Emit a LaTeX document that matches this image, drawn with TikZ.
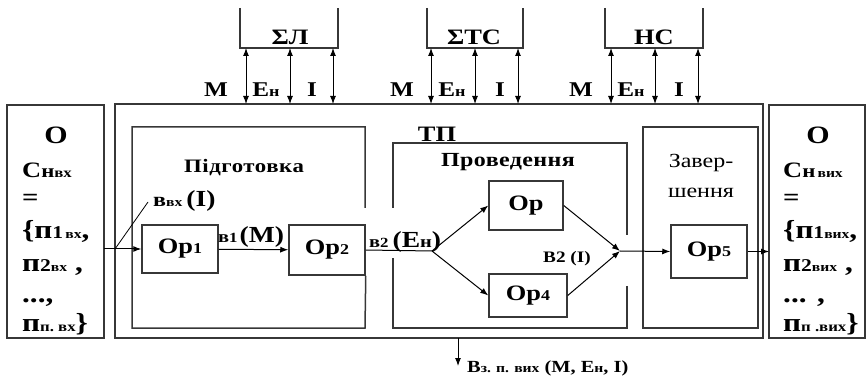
\documentclass[tikz,border=0pt]{standalone}
\usepackage{fontspec}
\setmainfont[FakeStretch=1.2]{Liberation Serif}
\usetikzlibrary{arrows.meta,calc}
\definecolor{lc}{RGB}{55,55,55}
\newcommand\fsz[2]{{\fontsize{#1}{#1}\selectfont #2}}
\begin{document}
\begin{tikzpicture}[x=1pt,y=-1pt,
  bx/.style={draw=lc, line width=1.5pt},
  area/.style={inner sep=0pt, outer sep=0pt},
  op/.style={bx, inner sep=0pt, font=\fontsize{22}{22}\selectfont\bfseries},
  lbl/.style={inner sep=0pt, font=\fontsize{21}{21}\selectfont\bfseries},
  ttl/.style={inner sep=0pt, font=\fontsize{22}{22}\selectfont\bfseries},
  tx/.style={inner sep=0pt, anchor=base west, font=\fontsize{26}{26}\selectfont\bfseries},
  arr/.style={-{Latex[length=8pt,width=6pt]}, line width=1pt},
  dbl/.style={{Latex[length=8pt,width=6pt]}-{Latex[length=8pt,width=6pt]}, line width=1pt}]
\useasboundingbox (0,0) rectangle (867,379);

% outer boxes
\node[bx, area, minimum width=97pt, minimum height=233pt] (in) at (55.5,221.5) {};
\node[bx, area, minimum width=96pt, minimum height=233pt] (out) at (817,221.5) {};
\node[bx, area, minimum width=648pt, minimum height=234pt] (tp) at (439,221) {};

% top resource boxes
\node[area, minimum width=98pt, minimum height=40pt] (SL) at (289,28) {};
\node[area, minimum width=96pt, minimum height=40pt] (STC) at (475,28) {};
\node[area, minimum width=98pt, minimum height=40pt] (NS) at (654,28) {};
\foreach \b in {SL,STC,NS}
  \draw[bx] (\b.north west) -- (\b.south west) -- (\b.south east) -- (\b.north east);
\node[ttl] (SLt) at (290,37) {ΣЛ};
\node[ttl] (STCt) at (474,37) {ΣТС};
\node[ttl] (NSt) at (654,37) {НС};

% double arrows
\foreach \b/\a/\c/\d in {SL/6/1/-5, STC/4/0/-5, NS/6/1/-5}{
  \draw[dbl] ([xshift=\a pt]\b.south west) -- ([xshift=\a pt]\b.south west |- tp.north);
  \draw[dbl] ([xshift=\c pt]\b.south) -- ([xshift=\c pt]\b.south |- tp.north);
  \draw[dbl] ([xshift=\d pt]\b.south east) -- ([xshift=\d pt]\b.south east |- tp.north);
}
\node[lbl] (m1) at (216,90) {М};
\node[lbl] (e1) at (266,90) {Е\fsz{15}{н}};
\node[lbl] (i1) at (312,90) {І};
\node[lbl] (m2) at (402,90) {М};
\node[lbl] (e2) at (452,90) {Е\fsz{15}{н}};
\node[lbl] (i2) at (500,90) {І};
\node[lbl] (m3) at (581,90) {М};
\node[lbl] (e3) at (631,90) {Е\fsz{15}{н}};
\node[lbl] (i3) at (679,90) {І};

% stage boxes
\node[area, minimum width=233pt, minimum height=201pt] (prep) at (248.5,227.5) {};
\node[area, minimum width=234pt, minimum height=185pt] (cond) at (510,235.5) {};
\node[bx, area, minimum width=115pt, minimum height=201pt] (fin) at (700.5,227.5) {};

% operations
\node[op, minimum width=76pt, minimum height=48pt] (op1) at (180,249) {Ор\fsz{15}{1}};
\node[op, minimum width=76pt, minimum height=50pt] (op2) at (327,250) {Ор\fsz{15}{2}};
\node[op, minimum width=74pt, minimum height=49pt] (op3) at (526,205.5) {Ор};
\node[op, minimum width=78pt, minimum height=43pt] (op4) at (528,295.5) {Ор\fsz{15}{4}};
\node[op, minimum width=76pt, minimum height=53pt] (op5) at (709,251.5) {Ор\fsz{15}{5}};

\draw[bx] (prep.east |- 0,208) -- (prep.north east) -- (prep.north west) -- (prep.south west) -- (prep.south east) -- (op2.south east);
\draw[bx] (cond.west |- 0,208) -- (cond.north west) -- (cond.north east) -- (cond.east |- 0,235);
\draw[bx] (cond.east |- 0,286) -- (cond.south east) -- (cond.south west) -- (cond.west |- 0,258);

% stage labels
\node[inner sep=0pt, font=\fontsize{19}{19}\selectfont\bfseries\addfontfeature{LetterSpace=3}] (prept) at (244,168) {Підготовка};
\node[inner sep=0pt, font=\fontsize{20}{20}\selectfont\bfseries\addfontfeature{LetterSpace=2}] (condt) at (508,162) {Проведення};
\node[inner sep=0pt, align=center, font=\fontsize{20}{30}\selectfont] (fint) at (701,176) {Завер-\\шення};
\node[ttl] (tpt) at (437,134) {ТП};

% flows
\coordinate (split) at (432,251);
\coordinate (join) at (620,251);
\coordinate (lead) at (148,202);
\draw[arr] (in.east |- op1.west) -- (op1.west);
\draw[line width=0.8pt] (tp.west |- op1.west) -- (lead);
\draw[arr] (op1) -- (op2);
\draw[line width=1pt] (op2.east) -- (split);
\draw[arr] (split) -- (op3.west);
\draw[arr] (split) -- (op4.west);
\draw[arr] (op3.east) -- (join);
\draw[arr] (op4.east) -- (join);
\draw[arr] (join) -- (op5.west);
\draw[arr] (op5.east) -- (out.west |- op5.east);
\coordinate (down) at (458,366);
\draw[arr] (tp.south -| down) -- (down);

% flow labels
\node[inner sep=0pt, anchor=base west, font=\bfseries] (lbin) at (153,207) {\fsz{20}{в}\fsz{13}{вх}\hspace{4pt}\fsz{23}{(І)}};
\node[inner sep=0pt, anchor=base west, font=\bfseries] (lb1) at (218,243) {\fsz{17}{в}\fsz{14}{1}\hspace{2pt}\fsz{23}{(М)}};
\node[inner sep=0pt, anchor=base west, font=\bfseries] (lb2) at (369,248) {\fsz{17}{в}\fsz{14}{2}\hspace{4pt}\fsz{23}{(Е\fsz{17}{н})}};
\node[inner sep=0pt, anchor=base west, font=\bfseries\fontsize{16}{16}\selectfont] (lb3) at (543,263) {В2 (І)};
\node[inner sep=0pt, anchor=base west, font=\bfseries\fontsize{17}{17}\selectfont] (lbout) at (467,372) {В\fsz{13}{з. п. вих} (М, Е\fsz{13}{н}, І)};

% object texts, input
\node[inner sep=0pt, anchor=base, font=\fontsize{25}{25}\selectfont\bfseries] (o1) at (56,144) {О};
\node[tx] (c1) at (22,178) {\fsz{22}{С}\fsz{19}{н}\fsz{14}{вх}};
\node[tx] (q1) at (22,206) {\fsz{24}{=}};
\node[tx] (p11) at (22,239) {\{п\fsz{18}{1}\fsz{13}{\,вх},};
\node[tx] (p12) at (22,272) {п\fsz{18}{2}\fsz{13}{вх} ,};
\node[tx] (p13) at (22,302) {...,};
\node[tx] (p14) at (22,331) {п\fsz{14}{п.~вх}\}};

% object texts, output
\node[inner sep=0pt, anchor=base, font=\fontsize{25}{25}\selectfont\bfseries] (o2) at (818,144) {О};
\node[tx] (c2) at (783,178) {\fsz{22}{С}\fsz{19}{н}\fsz{13}{\,вих}};
\node[tx] (q2) at (783,206) {\fsz{24}{=}};
\node[tx] (p21) at (783,239) {\{п\fsz{18}{1}\fsz{13}{вих},};
\node[tx] (p22) at (783,272) {п\fsz{18}{2}\fsz{13}{вих} ,};
\node[tx] (p23) at (783,302) {... ,};
\node[tx] (p24) at (783,331) {п\fsz{14}{п .вих}\}};
\end{tikzpicture}
\end{document}
